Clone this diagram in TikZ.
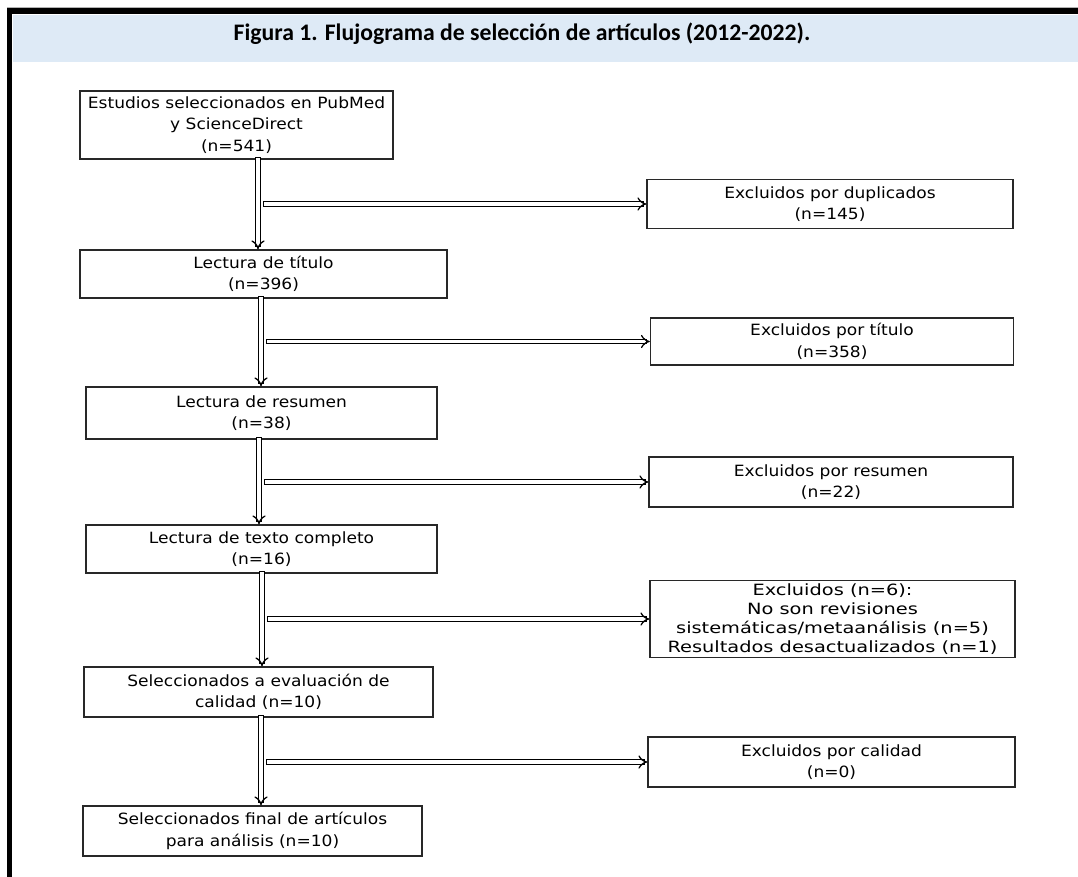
\documentclass[tikz,border=0pt]{standalone}
\usepackage{fontspec}
\setmainfont[FakeStretch=1.1]{DejaVu Sans}
\newfontfamily\anchafont[FakeStretch=1.25]{DejaVu Sans}
\newfontfamily\titlefont{Carlito}
\usetikzlibrary{arrows.meta}
\definecolor{bandblue}{RGB}{222,234,246}
\definecolor{boxgray}{RGB}{40,40,40}

\begin{document}
\begin{tikzpicture}[x=1pt, y=-1pt,
  caja/.style={draw=boxgray, line width=1.3pt, align=center, inner sep=0pt,
    font=\fontsize{15.5}{21.5}\selectfont},
  flecha/.style={draw=black, double=white, double distance=3.2pt,
    line width=1.3pt, line cap=rect, -{Implies}}]

\useasboundingbox (0,0) rectangle (1078,877);

% Marco y título
\fill[gray!60] (7,7) rectangle (1078,8);
\fill[black] (7,8) rectangle (1078,14);
\fill[black] (7,8) rectangle (12,877);
\fill[bandblue] (13,15) rectangle (1078,62);
\node[font=\titlefont\bfseries\fontsize{23.7}{28}\selectfont] (titulo) at (522,34)
  {Figura 1. Flujograma de selección de artículos (2012-2022).};

% Cajas de la columna principal
\node[caja, minimum width=313pt, minimum height=68pt] (s1) at (236.5,125)
  {Estudios seleccionados en PubMed\\y ScienceDirect\\(n=541)};
\node[caja, minimum width=367pt, minimum height=48pt] (s2) at (263.5,274)
  {Lectura de título\\(n=396)};
\node[caja, minimum width=351pt, minimum height=52pt] (s3) at (261.5,413)
  {Lectura de resumen\\(n=38)};
\node[caja, minimum width=351pt, minimum height=48pt] (s4) at (261.5,549)
  {Lectura de texto completo\\(n=16)};
\node[caja, minimum width=349pt, minimum height=50pt] (s5) at (258.5,692)
  {Seleccionados a evaluación de\\calidad (n=10)};
\node[caja, minimum width=339pt, minimum height=50pt] (s6) at (252.5,831)
  {Seleccionados final de artículos\\para análisis (n=10)};

% Cajas de excluidos
\node[caja, minimum width=366pt, minimum height=49pt] (e1) at (830,204)
  {Excluidos por duplicados\\(n=145)};
\node[caja, minimum width=363pt, minimum height=47pt] (e2) at (832,341.5)
  {Excluidos por título\\(n=358)};
\node[caja, minimum width=364pt, minimum height=50pt] (e3) at (831,482)
  {Excluidos por resumen\\(n=22)};
\node[caja, minimum width=365pt, minimum height=77pt,
  font=\anchafont\fontsize{15.5}{19}\selectfont] (e4) at (832.5,619)
  {Excluidos (n=6):\\No son revisiones\\sistemáticas/metaanálisis (n=5)\\Resultados desactualizados (n=1)};
\node[caja, minimum width=367pt, minimum height=50pt] (e5) at (831.5,762)
  {Excluidos por calidad\\(n=0)};

% Ejes de las flechas verticales
\coordinate (v1) at (258,0);
\coordinate (v2) at (261,0);
\coordinate (v3) at (259,0);
\coordinate (v4) at (262,0);
\coordinate (v5) at (261,0);

% Flechas
\draw[flecha] (s1.south -| v1) -- (s2.north -| v1);
\draw[flecha] ([xshift=8pt]e1.west -| v1) -- (e1.west);

\draw[flecha] (s2.south -| v2) -- (s3.north -| v2);
\draw[flecha] ([xshift=8pt]e2.west -| v2) -- (e2.west);

\draw[flecha] (s3.south -| v3) -- (s4.north -| v3);
\draw[flecha] ([xshift=8pt]e3.west -| v3) -- (e3.west);

\draw[flecha] (s4.south -| v4) -- (s5.north -| v4);
\draw[flecha] ([xshift=8pt]e4.west -| v4) -- (e4.west);

\draw[flecha] (s5.south -| v5) -- (s6.north -| v5);
\draw[flecha] ([xshift=8pt]e5.west -| v5) -- (e5.west);

\end{tikzpicture}
\end{document}
